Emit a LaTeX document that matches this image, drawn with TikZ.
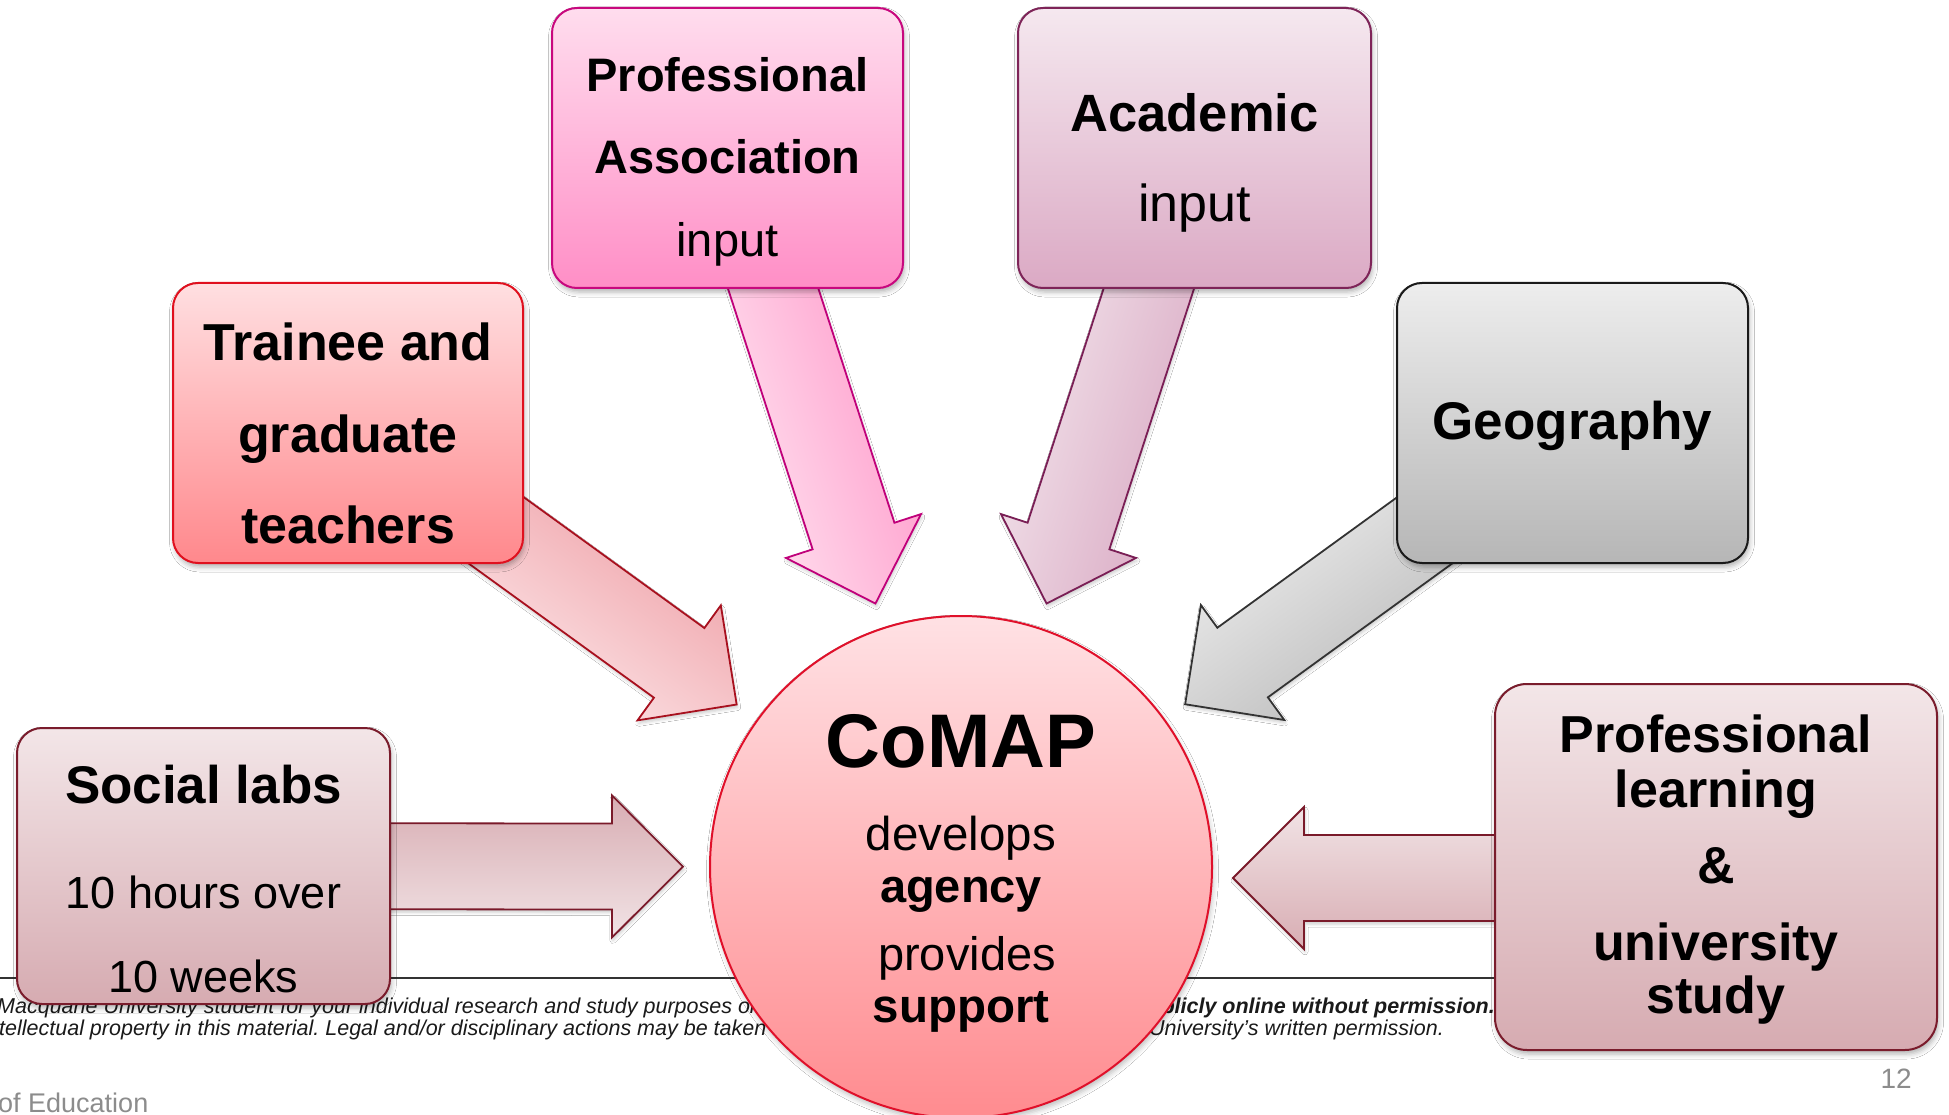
\documentclass[tikz,border=0pt]{standalone}
\usepackage{fontspec}
\setmainfont{Liberation Sans}
\usetikzlibrary{calc,shadows.blur}
\frenchspacing

\newcommand{\setfs}[1]{\fontsize{#1}{#1}\selectfont}

% fills and outlines
\definecolor{paT}{HTML}{FFDDEE}\definecolor{paB}{HTML}{FF8EC6}\definecolor{paL}{HTML}{C8087E}
\definecolor{paAL}{HTML}{FFE6F2}\definecolor{paAD}{HTML}{FF96C8}\definecolor{paAO}{HTML}{C0007A}
\definecolor{acT}{HTML}{F5E8EF}\definecolor{acB}{HTML}{DBA9C4}\definecolor{acL}{HTML}{7E2458}
\definecolor{acAL}{HTML}{F4E8EE}\definecolor{acAD}{HTML}{D8A6C1}\definecolor{acAO}{HTML}{7A1E55}
\definecolor{trT}{HTML}{FFDFE1}\definecolor{trB}{HTML}{FF888C}\definecolor{trL}{HTML}{E0101E}
\definecolor{trAL}{HTML}{FDEAEC}\definecolor{trAD}{HTML}{EE9CA3}\definecolor{trAO}{HTML}{A8101E}
\definecolor{geT}{HTML}{EDEDED}\definecolor{geB}{HTML}{B6B6B6}\definecolor{geL}{HTML}{1A1A1A}
\definecolor{geAL}{HTML}{F0F0F0}\definecolor{geAD}{HTML}{B8B8B8}\definecolor{geAO}{HTML}{333333}
\definecolor{slT}{HTML}{F3E6E8}\definecolor{slB}{HTML}{D6ABB1}\definecolor{slL}{HTML}{7A1C2C}
\definecolor{slAL}{HTML}{F1E3E5}\definecolor{slAD}{HTML}{D8ADB3}\definecolor{slAO}{HTML}{7A1A2A}
\definecolor{ciT}{HTML}{FFE1E4}\definecolor{ciB}{HTML}{FF8B8F}\definecolor{ciL}{HTML}{E0102A}
\definecolor{footline}{HTML}{333333}\definecolor{foottext}{HTML}{1A1A1A}\definecolor{slidegray}{HTML}{8C8C8C}

% block arrow from #1 (tail) to #2 (tip), drawn with style #3
\newcommand{\blockarrow}[3]{%
  \coordinate (hb) at ($(#2)!71pt!(#1)$);
  \path[#3] ($(#1)!43pt!90:(#2)$) -- ($(hb)!43pt!-90:(#1)$) -- ($(hb)!71pt!-90:(#1)$)
    -- (#2) -- ($(hb)!71pt!90:(#1)$) -- ($(hb)!43pt!90:(#1)$) -- ($(#1)!43pt!-90:(#2)$) -- cycle;
}

\pgfdeclarelayer{bg}
\pgfsetlayers{bg,main}

\begin{document}
\begin{tikzpicture}[x=1pt,y=-1pt,
  box/.style={rectangle, rounded corners=25pt, line width=2pt, inner sep=0pt,
    blur shadow={shadow xshift=1.5pt, shadow yshift=-4pt, shadow blur radius=5pt, shadow opacity=30}},
  lbl/.style={anchor=base, inner sep=0pt, text=black},
  foot/.style={inner sep=0pt, text=foottext, font=\setfs{21.5}\itshape},
  barrow/.style={line width=1.8pt, line join=miter,
    blur shadow={shadow xshift=1pt, shadow yshift=-3pt, shadow blur radius=3pt, shadow opacity=20}},
]
\useasboundingbox (0,0) rectangle (1949,1115);
\clip (0,0) rectangle (1949,1115);

% boxes and hub
\node[box, minimum width=351pt, minimum height=280pt, top color=paT, bottom color=paB, draw=paL] (pa) at (727.5,148) {};
\node[box, minimum width=353pt, minimum height=280pt, top color=acT, bottom color=acB, draw=acL] (ac) at (1194.5,148) {};
\node[box, minimum width=350pt, minimum height=280pt, top color=trT, bottom color=trB, draw=trL] (tr) at (348,423) {};
\node[box, minimum width=351pt, minimum height=280pt, top color=geT, bottom color=geB, draw=geL] (ge) at (1572.5,423) {};
\node[box, minimum width=373pt, minimum height=276pt, top color=slT, bottom color=slB, draw=slL] (sl) at (203.5,866) {};
\node[box, rounded corners=32pt, minimum width=442pt, minimum height=366pt, top color=slT, bottom color=slB, draw=slL] (pl) at (1716,867) {};
\node[circle, minimum size=502pt, inner sep=0pt, line width=2pt, top color=ciT, bottom color=ciB, draw=ciL,
  blur shadow={shadow xshift=1.5pt, shadow yshift=-4pt, shadow blur radius=5pt, shadow opacity=25}] (circ) at (961,867) {};

% box texts
\node[lbl, font=\setfs{47}\bfseries] (pa1) at (727.5,92) {Professional};
\node[lbl, font=\setfs{47}\bfseries] (pa2) at (727.5,174) {Association};
\node[lbl, font=\setfs{47}] (pa3) at (727.5,257) {input};

\node[lbl, font=\setfs{52.5}\bfseries] (ac1) at (1194.5,132) {Academic};
\node[lbl, font=\setfs{52}] (ac2) at (1194.5,222) {input};

\node[lbl, font=\setfs{52}\bfseries] (tr1) at (348,360) {Trainee and};
\node[lbl, font=\setfs{52}\bfseries] (tr2) at (348,452) {graduate};
\node[lbl, font=\setfs{52}\bfseries] (tr3) at (348,543) {teachers};

\node[lbl, font=\setfs{53}\bfseries] (ge1) at (1572.5,439) {Geography};

\node[lbl, font=\setfs{53}\bfseries] (sl1) at (203.5,803) {Social labs};
\node[lbl, font=\setfs{45}] (sl2) at (203.5,908) {10 hours over};
\node[lbl, font=\setfs{45}] (sl3) at (203.5,992) {10 weeks};

\node[lbl, font=\setfs{52}\bfseries] (pl1) at (1716,752) {Professional};
\node[lbl, font=\setfs{52}\bfseries] (pl2) at (1716,807) {learning};
\node[lbl, font=\setfs{52}\bfseries] (pl3) at (1716,883) {\&};
\node[lbl, font=\setfs{52}\bfseries] (pl4) at (1716,960) {university};
\node[lbl, font=\setfs{52}\bfseries] (pl5) at (1716,1013) {study};

\node[lbl, font=\setfs{76}\bfseries] (c1) at (961,767) {CoMAP};
\node[lbl, font=\setfs{47.5}] (c2) at (961,850) {develops};
\node[lbl, font=\setfs{47}\bfseries] (c3) at (961,902) {agency};
\node[lbl, font=\setfs{47}] (c4) at (967,970) {provides};
\node[lbl, font=\setfs{47.5}\bfseries] (c5) at (961,1022) {support};

% slide footer and radial arrows, beneath the boxes
\begin{pgfonlayer}{bg}
  \fill[white] (0,0) rectangle (1949,1115);
  \draw[line width=2pt, footline] (0,978) -- (1760,978);
  \node[foot, anchor=base west] (f1) at (-3,1013) {Macquarie University student for your individual research and study purposes only.};
  \node[foot, anchor=base east, font=\setfs{21.5}\bfseries\itshape] (f2) at (1495,1013) {publicly online without permission.};
  \node[foot, anchor=base west] (f3) at (-1,1035) {tellectual property in this material. Legal and/or disciplinary actions may be taken};
  \node[foot, anchor=base east] (f4) at (1444,1035) {University’s written permission.};
  \node[inner sep=0pt, anchor=base west, text=slidegray, font=\setfs{27}] (dept) at (-2,1112) {of Education};
  \node[inner sep=0pt, anchor=base east, text=slidegray, font=\setfs{28}] (pgno) at (1912,1088) {12};

  \coordinate (pa-tail) at ($(circ.center)!640pt!(pa.center)$);
  \coordinate (pa-tip)  at ($(circ.center)!277pt!(pa.center)$);
  \coordinate (ac-tail) at ($(circ.center)!640pt!(ac.center)$);
  \coordinate (ac-tip)  at ($(circ.center)!277pt!(ac.center)$);
  \coordinate (tr-tail) at ($(circ.center)!600pt!(tr.center)$);
  \coordinate (tr-tip)  at ($(circ.center)!277pt!(tr.center)$);
  \coordinate (ge-tail) at ($(circ.center)!600pt!(ge.center)$);
  \coordinate (ge-tip)  at ($(circ.center)!277pt!(ge.center)$);
  \coordinate (sl-tail) at ($(circ.center)!600pt!(sl.center)$);
  \coordinate (sl-tip)  at ($(circ.center)!278pt!(sl.center)$);
  \coordinate (pl-tail) at ($(pl.center)+(-60,11)$);
  \coordinate (pl-tip)  at ($(circ.center)+(272,11)$);

  \blockarrow{pa-tail}{pa-tip}{barrow, draw=paAO, top color=paAD, bottom color=paAL, shading angle=-72}
  \blockarrow{ac-tail}{ac-tip}{barrow, draw=acAO, top color=acAD, bottom color=acAL, shading angle=-108}
  \blockarrow{tr-tail}{tr-tip}{barrow, draw=trAO, top color=trAD, bottom color=trAL, shading angle=-36}
  \blockarrow{ge-tail}{ge-tip}{barrow, draw=geAO, top color=geAD, bottom color=geAL, shading angle=-144}
  \blockarrow{sl-tail}{sl-tip}{barrow, draw=slAO, top color=slAD, bottom color=slAL, shading angle=0}
  \blockarrow{pl-tail}{pl-tip}{barrow, draw=slAO, top color=slAD, bottom color=slAL, shading angle=180}
\end{pgfonlayer}
\end{tikzpicture}
\end{document}
